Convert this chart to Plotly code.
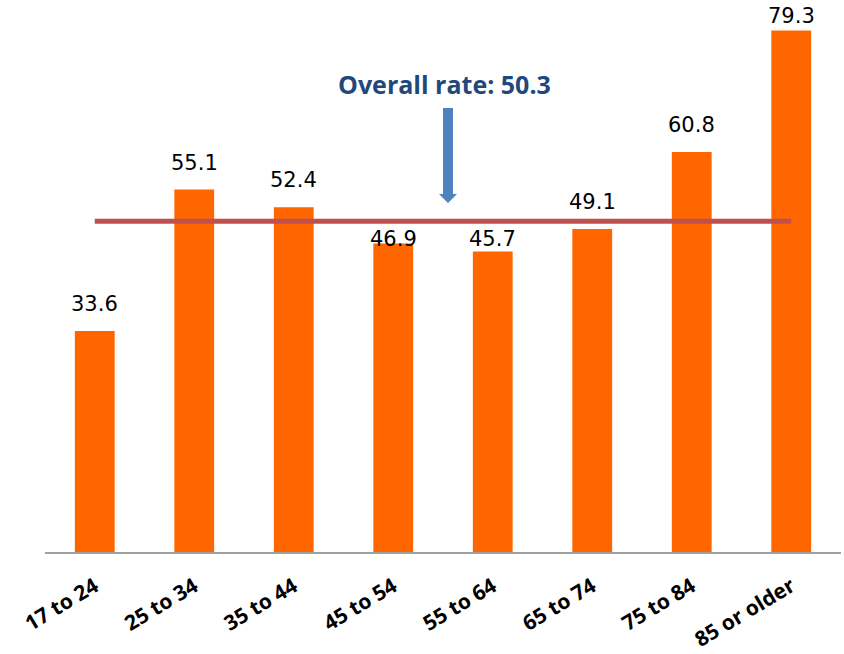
import plotly.graph_objects as go

categories = ["17 to 24", "25 to 34", "35 to 44", "45 to 54", "55 to 64", "65 to 74", "75 to 84", "85 or older"]
rates = [33.6, 55.1, 52.4, 46.9, 45.7, 49.1, 60.8, 79.3]
overall_rate = 50.3
overall_label = "Overall rate: 50.3"

W, H = 844, 654
M_L, M_R, M_T, M_B = 45, 3, 10, 102
Y_MAX = 82.4
plot_w = W - M_L - M_R
plot_h = H - M_T - M_B
ppu = plot_h / Y_MAX

LABEL_FONT = dict(family="DejaVu Sans", size=21, color="#000000")
DIGIT_H = 15
GAP = 19          # bar top to label baseline
LINE_HALF = 2.5

fig = go.Figure()
fig.add_trace(go.Bar(
    x=categories, y=rates,
    marker=dict(color="#FF6600", line=dict(width=0)),
    width=0.4, showlegend=False, hoverinfo="x+y",
))
fig.add_trace(go.Scatter(
    x=categories, y=[overall_rate] * len(categories),
    mode="lines", line=dict(color="#C0504D", width=5),
    showlegend=False, hoverinfo="skip",
))

line_px = M_T + (Y_MAX - overall_rate) * ppu
annotations = []
for c, v in zip(categories, rates):
    bar_top = M_T + (Y_MAX - v) * ppu
    base = bar_top - GAP
    top = base - DIGIT_H
    if top < M_T:
        # squeeze between the bar top and the top edge
        annotations.append(dict(x=c, y=v, xref="x", yref="y", text=f"{v:.1f}",
                                showarrow=False, yanchor="bottom", yshift=0, font=LABEL_FONT))
    elif top < line_px + LINE_HALF + 2 and base > line_px - LINE_HALF - 2:
        # would collide with the overall line: put it just below the line
        annotations.append(dict(x=c, y=overall_rate, xref="x", yref="y", text=f"{v:.1f}",
                                showarrow=False, yanchor="top", yshift=-4, font=LABEL_FONT))
    else:
        annotations.append(dict(x=c, y=v, xref="x", yref="y", text=f"{v:.1f}",
                                showarrow=False, yanchor="bottom", yshift=13, font=LABEL_FONT))

def px_x(p):
    return (p - M_L) / plot_w
def py(p):
    return (H - M_B - p) / plot_h

annotations.append(dict(
    x=px_x(445), y=py(84), xref="paper", yref="paper", text=f"<b>{overall_label}</b>",
    showarrow=False, xanchor="center", yanchor="middle",
    font=dict(family="Open Sans", size=25, color="#1F497D"),
))

# arrow pointing to overall line
ax_c = px_x(448)
sw = 5 / plot_w
hw = 9 / plot_w
y_top, y_neck, y_tip = py(108), py(194), py(203)
shapes = [dict(
    type="path", xref="paper", yref="paper",
    path=(f"M {ax_c-sw} {y_top} L {ax_c+sw} {y_top} L {ax_c+sw} {y_neck} "
          f"L {ax_c+hw} {y_neck} L {ax_c} {y_tip} L {ax_c-hw} {y_neck} "
          f"L {ax_c-sw} {y_neck} Z"),
    fillcolor="#4F81BD", line=dict(width=0),
)]

fig.update_layout(
    width=W, height=H,
    margin=dict(l=M_L, r=M_R, t=M_T, b=M_B, autoexpand=False),
    plot_bgcolor="white", paper_bgcolor="white",
    bargap=0.6,
    annotations=annotations,
    shapes=shapes,
    xaxis=dict(
        type="category", showgrid=False, showline=True, linecolor="#A0A0A0", linewidth=2,
        ticks="", tickangle=-31, ticklabelstandoff=12, automargin=False,
        tickfont=dict(family="Open Sans", size=21, color="#000000", weight="bold"),
        range=[-0.5, len(categories) - 0.5],
    ),
    yaxis=dict(range=[0, Y_MAX], visible=False, showgrid=False, zeroline=False, automargin=False),
)

fig.write_html("out.html", config={"displayModeBar": False},
               post_script="document.body.style.margin='0';document.body.style.overflow='hidden';")
